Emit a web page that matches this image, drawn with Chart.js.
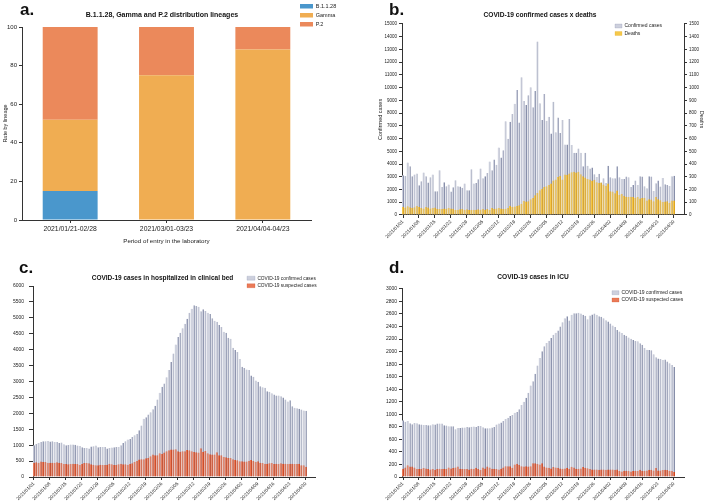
<!DOCTYPE html>
<html>
<head>
<meta charset="utf-8">
<script src="https://cdn.jsdelivr.net/npm/chart.js@4.4.1/dist/chart.umd.min.js"></script>
<style>
  html, body { margin: 0; padding: 0; background: #fff; width: 708px; height: 501px; overflow: hidden; }
  canvas { position: absolute; }
  .tag { position: absolute; font: bold 17px 'Liberation Sans', Arial, sans-serif; line-height: 17px; color: #111; }
</style>
</head>
<body>
<canvas id="chartA" width="354" height="250" style="left:0;top:0"></canvas>
<canvas id="chartB" width="354" height="250" style="left:354px;top:0"></canvas>
<canvas id="chartC" width="354" height="251" style="left:0;top:250px"></canvas>
<canvas id="chartD" width="354" height="251" style="left:354px;top:250px"></canvas>
<div class="tag" style="left:20px;top:1px">a.</div>
<div class="tag" style="left:389px;top:1px">b.</div>
<div class="tag" style="left:19px;top:259px">c.</div>
<div class="tag" style="left:389px;top:259px">d.</div>
<script>
// panel a
var periods = ['2021/01/21-02/28', '2021/03/01-03/23', '2021/04/04-04/23'];
var lineageB1128 = [15, 0, 0];
var lineageGamma = [37, 75, 88.3];
var lineageP2 = [48, 25, 11.7];

// daily series, 2021/01/01 .. 2021/04/30
var dayTicks = ['2021/01/01', '2021/01/08', '2021/01/15', '2021/01/22', '2021/01/29', '2021/02/05',
  '2021/02/12', '2021/02/19', '2021/02/26', '2021/03/05', '2021/03/12', '2021/03/19',
  '2021/03/26', '2021/04/02', '2021/04/09', '2021/04/16', '2021/04/23', '2021/04/30'];

var confirmedCases = [
  3120, 3070, 4120, 3830, 3050, 3180, 3250, 2340, 2650, 3330,
  3050, 2550, 2970, 3180, 1860, 1860, 3520, 2200, 2570, 2260,
  2390, 1840, 2180, 2730, 2260, 2230, 2130, 2470, 1940, 1940,
  3600, 2470, 2520, 2810, 3650, 2890, 3050, 3300, 4200, 3520,
  4360, 3940, 5300, 4510, 5090, 7350, 5980, 7320, 7930, 8740,
  9820, 7270, 10810, 8950, 8640, 9400, 10030, 8450, 9740, 13620,
  8770, 7450, 9500, 7400, 7720, 6400, 8900, 6500, 7660, 6430,
  7450, 5540, 5540, 7530, 5490, 4880, 4880, 5220, 4880, 3830,
  4880, 3860, 3650, 3730, 3200, 2990, 3230, 2550, 2890, 2520,
  3860, 2970, 2890, 2890, 3830, 2970, 2830, 2830, 3020, 2970,
  2200, 2360, 2700, 2360, 3050, 3020, 2260, 2100, 3050, 3020,
  1890, 2490, 2700, 2230, 2910, 2410, 2360, 2280, 3050, 3080];
var deaths = [
  63, 58, 68, 60, 55, 60, 71, 63, 55, 52,
  63, 58, 52, 55, 58, 50, 47, 47, 52, 50,
  55, 52, 50, 39, 42, 45, 47, 42, 45, 39,
  42, 42, 42, 45, 42, 47, 42, 48, 39, 55,
  50, 52, 55, 52, 47, 50, 55, 71, 63, 66,
  71, 76, 89, 110, 105, 108, 123, 134, 155, 173,
  194, 207, 220, 226, 236, 247, 270, 278, 299, 307,
  278, 318, 315, 325, 336, 339, 333, 339, 320, 304,
  294, 283, 278, 268, 276, 257, 252, 255, 239, 228,
  247, 186, 184, 171, 192, 157, 165, 152, 144, 142,
  144, 142, 136, 142, 129, 134, 136, 113, 123, 121,
  108, 142, 123, 115, 102, 105, 108, 97, 113, 113];

var bedConfirmed = [
  997, 1039, 1070, 1102, 1123, 1123, 1133, 1112, 1123, 1102,
  1102, 1070, 1081, 1028, 997, 1007, 1018, 1018, 1010, 986,
  976, 934, 913, 913, 892, 955, 965, 986, 934, 944,
  944, 944, 892, 913, 923, 934, 944, 944, 997, 1070,
  1123, 1175, 1196, 1259, 1312, 1354, 1469, 1616, 1826, 1878,
  1962, 2036, 2130, 2235, 2434, 2644, 2833, 2938, 3137, 3358,
  3610, 3883, 4166, 4397, 4533, 4670, 4816, 4974, 5163, 5289,
  5394, 5373, 5352, 5205, 5268, 5215, 5163, 5121, 4984, 4911,
  4879, 4774, 4711, 4565, 4533, 4376, 4345, 4061, 3990, 3925,
  3704, 3463, 3421, 3379, 3358, 3190, 3148, 3033, 2991, 2854,
  2822, 2802, 2697, 2676, 2634, 2592, 2560, 2560, 2539, 2497,
  2434, 2371, 2413, 2225, 2172, 2162, 2141, 2120, 2088, 2080];
var bedSuspected = [
  451, 462, 451, 483, 472, 472, 451, 451, 451, 451,
  462, 451, 441, 409, 409, 399, 409, 420, 409, 409,
  378, 409, 441, 441, 430, 399, 388, 367, 367, 388,
  380, 378, 388, 420, 399, 378, 378, 399, 420, 399,
  399, 388, 409, 430, 472, 504, 546, 556, 556, 588,
  598, 651, 703, 682, 682, 745, 724, 766, 808, 839,
  860, 865, 871, 808, 797, 808, 808, 850, 839, 808,
  787, 776, 766, 902, 797, 818, 745, 714, 703, 703,
  776, 682, 682, 630, 619, 598, 598, 556, 535, 525,
  493, 493, 490, 483, 514, 535, 504, 472, 493, 451,
  441, 420, 420, 430, 441, 409, 420, 409, 430, 420,
  420, 409, 420, 420, 409, 409, 420, 367, 367, 325];

var icuConfirmed = [
  905, 883, 894, 857, 841, 862, 857, 841, 836, 830,
  830, 825, 825, 841, 836, 852, 852, 852, 825, 820,
  809, 809, 809, 762, 783, 783, 788, 788, 799, 794,
  800, 804, 799, 815, 815, 794, 778, 778, 778, 788,
  799, 836, 852, 868, 894, 926, 947, 973, 989, 1026,
  1037, 1079, 1148, 1201, 1264, 1344, 1460, 1529, 1645, 1777,
  1899, 2005, 2084, 2137, 2174, 2216, 2269, 2300, 2338, 2402,
  2470, 2534, 2566, 2497, 2587, 2613, 2613, 2618, 2608, 2587,
  2571, 2518, 2576, 2592, 2608, 2587, 2566, 2555, 2534, 2502,
  2481, 2449, 2418, 2391, 2343, 2322, 2296, 2269, 2253, 2227,
  2206, 2185, 2170, 2164, 2132, 2111, 2058, 2031, 2026, 2021,
  1957, 1910, 1889, 1883, 1867, 1873, 1841, 1814, 1788, 1756];
var icuSuspected = [
  131, 152, 189, 168, 168, 152, 126, 126, 126, 142,
  137, 126, 121, 126, 116, 126, 131, 126, 131, 126,
  152, 137, 142, 152, 168, 131, 126, 126, 126, 121,
  131, 126, 147, 126, 110, 152, 137, 168, 152, 131,
  131, 128, 121, 131, 152, 173, 173, 173, 147, 200,
  210, 195, 173, 168, 173, 168, 173, 221, 221, 210,
  200, 221, 168, 152, 147, 137, 158, 152, 147, 137,
  131, 137, 147, 131, 163, 152, 131, 131, 137, 158,
  147, 140, 126, 121, 121, 121, 116, 121, 121, 116,
  121, 121, 121, 116, 121, 95, 89, 100, 100, 100,
  89, 95, 100, 95, 116, 100, 100, 105, 116, 116,
  105, 142, 105, 105, 110, 116, 110, 100, 100, 79];

Chart.defaults.font.family = "'Liberation Sans', Arial, Helvetica, sans-serif";
Chart.defaults.color = '#222';
Chart.defaults.animation = false;

var AXIS = '#333';
var CONF_FILL = '#cdd0dd', CONF_LINE = '#878ea9';
var DEATH_FILL = '#f5c84a', DEATH_LINE = '#dea424';
var SUSP_FILL = '#ea7a58', SUSP_LINE = '#cc4824';

// legend takes no room in the layout, then gets put where the figure has it
function placeBoxes(legendLeft, legendTop, titleShift) {
  return {
    id: 'placeBoxes',
    beforeInit(chart) {
      const fit = chart.legend.fit;
      chart.legend.fit = function () {
        fit.call(this);
        this.width = 0;
        this.height = 0;
      };
    },
    afterLayout(chart) {
      const lg = chart.legend;
      lg.left = legendLeft; lg.top = legendTop;
      lg.width = 110; lg.height = 40;
      lg.right = legendLeft + 110; lg.bottom = legendTop + 40;
      chart.titleBlock.left += titleShift;
      chart.titleBlock.right += titleShift;
    }
  };
}

function axisGrid(len) {
  return { display: true, drawOnChartArea: false, drawTicks: true, tickLength: len, color: AXIS, lineWidth: 1, offset: false };
}

function plain(v) { return String(v); }

function toPoints(values) {
  return values.map(function (v, i) { return { x: i, y: v }; });
}

function dayAxis(min, max, height) {
  return {
    type: 'linear', min: min, max: max, offset: false,
    afterBuildTicks: function (axis) { axis.ticks = dayTicks.map(function (t, i) { return { value: i * 7 }; }); },
    ticks: { autoSkip: false, minRotation: 45, maxRotation: 45, font: { size: 4.7 }, padding: 1,
      callback: function (v, i) { return dayTicks[i]; } },
    grid: axisGrid(3),
    border: { display: true, color: AXIS, width: 1 },
    afterFit: function (s) { s.height = height; }
  };
}

function legendLabels(size, boxW, pad) {
  return { font: { size: size }, boxWidth: boxW, boxHeight: 4, padding: pad, textAlign: 'left',
    sort: function (a, b) { return a.datasetIndex - b.datasetIndex; } };
}

// a. lineages
new Chart(document.getElementById('chartA'), {
  type: 'bar',
  data: {
    labels: periods,
    datasets: [
      { label: 'B.1.1.28', data: lineageB1128, backgroundColor: '#4a97cc', barPercentage: 0.57, categoryPercentage: 1 },
      { label: 'Gamma', data: lineageGamma, backgroundColor: '#f0ad52', barPercentage: 0.57, categoryPercentage: 1 },
      { label: 'P.2', data: lineageP2, backgroundColor: '#eb895b', barPercentage: 0.57, categoryPercentage: 1 }
    ]
  },
  options: {
    responsive: false,
    layout: { padding: { left: 0, top: 0, right: 43, bottom: 0 } },
    plugins: {
      title: { display: true, text: 'B.1.1.28, Gamma and P.2 distribution lineages', fullSize: false,
        font: { size: 7, weight: 'bold' }, padding: { top: 10.8, bottom: 7.8 }, color: '#111' },
      legend: { position: 'right', align: 'start',
        labels: { font: { size: 5.5 }, boxWidth: 13, boxHeight: 4.5, padding: 3.5, textAlign: 'left' } },
      tooltip: { enabled: false }
    },
    scales: {
      x: {
        stacked: true,
        grid: axisGrid(3),
        border: { display: true, color: AXIS, width: 1 },
        ticks: { font: { size: 6.8 }, padding: 2 },
        title: { display: true, text: 'Period of entry in the laboratory', font: { size: 6.2 }, padding: { top: 0, bottom: 5.3 } },
        afterFit: function (s) { s.height = 30; }
      },
      y: {
        stacked: true, min: 0, max: 100,
        grid: axisGrid(3),
        border: { display: true, color: AXIS, width: 1 },
        ticks: { stepSize: 20, font: { size: 6 }, padding: 2, callback: plain },
        title: { display: true, text: 'Rate by lineage', font: { size: 5.5 }, padding: { top: 1.7, bottom: 0 } },
        afterFit: function (s) { s.width = 22; }
      }
    }
  },
  plugins: [placeBoxes(296.5, 0, -4.5)]
});

// b. confirmed cases x deaths
new Chart(document.getElementById('chartB'), {
  type: 'bar',
  data: {
    datasets: [
      { label: 'Confirmed cases', data: toPoints(confirmedCases), yAxisID: 'y', order: 1, grouped: false,
        backgroundColor: CONF_FILL, borderColor: CONF_LINE, borderWidth: { top: 0, right: 1, bottom: 0, left: 0 },
        barPercentage: 0.9, categoryPercentage: 1 },
      { label: 'Deaths', data: toPoints(deaths), yAxisID: 'y1', order: 0, grouped: false,
        backgroundColor: DEATH_FILL, borderColor: DEATH_LINE, borderWidth: { top: 0, right: 1, bottom: 0, left: 0 },
        barPercentage: 0.9, categoryPercentage: 1 }
    ]
  },
  options: {
    responsive: false,
    layout: { padding: { left: 20, top: 0, right: 0, bottom: 0 } },
    plugins: {
      title: { display: true, text: 'COVID-19 confirmed cases x deaths', fullSize: false,
        font: { size: 6.6, weight: 'bold' }, padding: { top: 11, bottom: 5 }, color: '#111' },
      legend: { position: 'right', align: 'start', labels: legendLabels(5, 7, 2.5) },
      tooltip: { enabled: false }
    },
    scales: {
      x: dayAxis(-0.44, 123.4, 35),
      y: {
        position: 'left', min: 0, max: 15000,
        grid: axisGrid(3),
        border: { display: true, color: AXIS, width: 1 },
        ticks: { stepSize: 1000, font: { size: 4.5 }, padding: 2, callback: plain },
        title: { display: true, text: 'Confirmed cases', font: { size: 5.5 }, padding: { top: 2.7, bottom: 0 } },
        afterFit: function (s) { s.width = 28; }
      },
      y1: {
        position: 'right', min: 0, max: 1500,
        grid: axisGrid(3),
        border: { display: true, color: AXIS, width: 1 },
        ticks: { stepSize: 100, font: { size: 4.5 }, padding: 2, callback: plain },
        title: { display: true, text: 'Deaths', font: { size: 5.5 }, padding: { top: 2.7, bottom: 0 } },
        afterFit: function (s) { s.width = 24; }
      }
    }
  },
  plugins: [placeBoxes(258.5, 21, -3)]
});

// c. clinical beds
new Chart(document.getElementById('chartC'), {
  type: 'bar',
  data: {
    datasets: [
      { label: 'COVID-19 confirmed cases', data: toPoints(bedConfirmed), order: 1, grouped: false,
        backgroundColor: CONF_FILL, borderColor: CONF_LINE, borderWidth: { top: 0, right: 1, bottom: 0, left: 0 },
        barPercentage: 0.9, categoryPercentage: 1 },
      { label: 'COVID-19 suspected cases', data: toPoints(bedSuspected), order: 0, grouped: false,
        backgroundColor: SUSP_FILL, borderColor: SUSP_LINE, borderWidth: { top: 0, right: 1, bottom: 0, left: 0 },
        barPercentage: 0.9, categoryPercentage: 1 }
    ]
  },
  options: {
    responsive: false,
    layout: { padding: { left: 0, top: 0, right: 39, bottom: 0 } },
    plugins: {
      title: { display: true, text: 'COVID-19 cases in hospitalized in clinical bed', fullSize: false,
        font: { size: 6.5, weight: 'bold' }, padding: { top: 24.1, bottom: 4.1 }, color: '#111' },
      legend: { position: 'right', align: 'start', labels: legendLabels(4.8, 8, 2.7) },
      tooltip: { enabled: false }
    },
    scales: {
      x: dayAxis(-0.4, 123, 24),
      y: {
        min: 0, max: 6000,
        grid: axisGrid(4),
        border: { display: true, color: AXIS, width: 1 },
        ticks: { stepSize: 500, font: { size: 5 }, padding: 5, callback: plain },
        afterFit: function (s) { s.width = 33; }
      }
    }
  },
  plugins: [placeBoxes(244.3, 23.1, -11.5)]
});

// d. ICU
new Chart(document.getElementById('chartD'), {
  type: 'bar',
  data: {
    datasets: [
      { label: 'COVID-19 confirmed cases', data: toPoints(icuConfirmed), order: 1, grouped: false,
        backgroundColor: CONF_FILL, borderColor: CONF_LINE, borderWidth: { top: 0, right: 1, bottom: 0, left: 0 },
        barPercentage: 0.9, categoryPercentage: 1 },
      { label: 'COVID-19 suspected cases', data: toPoints(icuSuspected), order: 0, grouped: false,
        backgroundColor: SUSP_FILL, borderColor: SUSP_LINE, borderWidth: { top: 0, right: 1, bottom: 0, left: 0 },
        barPercentage: 0.9, categoryPercentage: 1 }
    ]
  },
  options: {
    responsive: false,
    layout: { padding: { left: 0, top: 0, right: 24, bottom: 0 } },
    plugins: {
      title: { display: true, text: 'COVID-19 cases in ICU', fullSize: false,
        font: { size: 6.6, weight: 'bold' }, padding: { top: 23.7, bottom: 7.3 }, color: '#111' },
      legend: { position: 'right', align: 'start', labels: legendLabels(5, 7, 2.3) },
      tooltip: { enabled: false }
    },
    scales: {
      x: dayAxis(-0.44, 123.4, 24),
      y: {
        min: 0, max: 3000,
        grid: axisGrid(3),
        border: { display: true, color: AXIS, width: 1 },
        ticks: { stepSize: 200, font: { size: 5 }, padding: 2, callback: plain },
        afterFit: function (s) { s.width = 48; }
      }
    }
  },
  plugins: [placeBoxes(255.7, 37.9, -10)]
});
</script>
</body>
</html>
